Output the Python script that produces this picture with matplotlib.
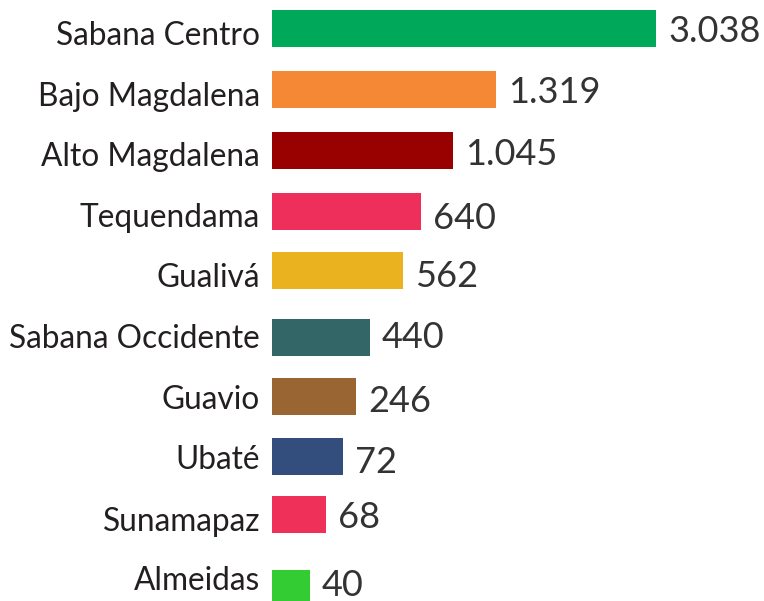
import matplotlib.pyplot as plt

# Data
regions = ['Sabana Centro', 'Bajo Magdalena', 'Alto Magdalena', 'Tequendama', 'Gualivá',
           'Sabana Occidente', 'Guavio', 'Ubaté', 'Sunamapaz', 'Almeidas']
value_labels = ['3.038', '1.319', '1.045', '640', '562', '440', '246', '72', '68', '40']
# drawn bar lengths (the original bars are not to scale with the values)
bar_lengths = [384, 224, 181, 149, 131, 98, 84, 71, 54, 38]
colors = ['#00A859', '#F48835', '#990000', '#EF2F5B', '#EAB21F',
          '#336666', '#996633', '#334D7C', '#EF3059', '#33CC33']

# layout (pixel coordinates, origin top-left)
bar_top = [10, 71, 132, 193, 252, 319, 378, 438, 496, 570]
label_base = [45, 106, 166, 227, 287, 348, 409, 469, 531, 590]
value_base = [42, 103, 165, 229, 287, 348, 412, 473, 528, 596]
x0 = 272
bar_h = 37

fig = plt.figure(figsize=(7.64, 6.01), dpi=100)
ax = fig.add_axes([0, 0, 1, 1])
ax.set_xlim(0, 764)
ax.set_ylim(601, 0)
ax.axis('off')

centers = [t + bar_h / 2 for t in bar_top]
ax.barh(centers, bar_lengths, left=x0, height=bar_h, color=colors, linewidth=0)

for i, name in enumerate(regions):
    ax.text(260, label_base[i], name, ha='right', va='baseline',
            fontsize=22.8, family='Lato', color='#231F20')
    ax.text(x0 + bar_lengths[i] + 12, value_base[i], value_labels[i], ha='left',
            va='baseline', fontsize=26, family='Lato', color='#333333')

fig.savefig('out.png', dpi=100)
